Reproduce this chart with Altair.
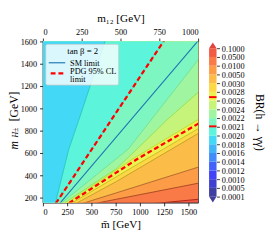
import altair as alt
import pandas as pd

# ---- colour-bar levels ----
levels = [0.0001, 0.0005, 0.0010, 0.0012, 0.0014, 0.0016, 0.0018, 0.0020, 0.0021,
          0.0022, 0.0024, 0.0026, 0.0028, 0.0030, 0.0050, 0.0100, 0.0500, 0.1000]
level_labels = ["0.0001", "0.0005", "0.0010", "0.0012", "0.0014", "0.0016", "0.0018",
                "0.0020", "0.0021", "0.0022", "0.0024", "0.0026", "0.0028", "0.0030",
                "0.0050", "0.0100", "0.0500", "0.1000"]
band_colors = ["#4040a0", "#4040d0", "#4242f8", "#4262fa", "#428cfa", "#42b4f8",
               "#42d8f6", "#5cf4da", "#7ef6c2", "#a0f6a0", "#c6f47a", "#eef250",
               "#fcd844", "#fcbc48", "#fc9c46", "#f97a46", "#f25a44"]
over_color = "#e04440"
under_color = "#40409a"
cbar_marks = [8.05, 11.4]   # red markers on the colour bar (level index units)

# ---- contour boundaries: (mbar [GeV], m_H+- [GeV]) ----
c0020_x = [0, 130, 267, 370, 640, 720]
c0020_y = [-300, 155, 634, 895, 1600, 1800]
c0021_x = [0, 140, 1243, 1396]
c0021_y = [-28, 155, 1600, 1800]
c0022_x = [0, 200, 880, 1610, 1928]
c0022_y = [14, 155, 634, 1446, 1800]
c0024_x = [0, 230, 760, 970, 1277, 1610, 1800]
c0024_y = [23, 155, 460, 634, 895, 1150, 1295]
c0026_x = [0, 260, 930, 1610, 1800]
c0026_y = [3, 155, 547, 904, 1004]
c0028_x = [0, 310, 760, 1610, 1800]
c0028_y = [-5, 155, 387, 822, 919]
c0030_x = [0, 360, 760, 1610, 1800]
c0030_y = [-15, 155, 344, 779, 876]
c0050_x = [0, 440, 760, 1610, 1800]
c0050_y = [35, 155, 242, 474, 526]
c0100_x = [0, 590, 760, 1610, 1800]
c0100_y = [54, 155, 184, 329, 361]
c0500_x = [0, 1260, 1610, 1800]
c0500_y = [51, 155, 184, 200]

sm_x = [32, 183, 1595, 1790]
sm_y = [0, 155, 1600, 1800]
pdg_lo_x = [0, 280, 977, 1610, 1800]
pdg_lo_y = [-2, 155, 547, 866, 962]

FONT = "Liberation Serif"
XDOM = [0, 1600]
YDOM = [155, 1600]
TOP = 2000

xenc = lambda: alt.X("x:Q", scale=alt.Scale(domain=XDOM, nice=False, zero=False),
                     axis=alt.Axis(values=[0, 250, 500, 750, 1000, 1250, 1500], format="d",
                                   title="m̄ [GeV]", titlePadding=3))
yenc = lambda: alt.Y("y:Q", scale=alt.Scale(domain=YDOM, nice=False, zero=False),
                     axis=alt.Axis(values=[200, 400, 600, 800, 1000, 1200, 1400, 1600],
                                   format="d", title=None, labelPadding=3))

def line_df(xs, ys):
    return pd.DataFrame({"x": xs, "y": ys, "top": [TOP] * len(xs)})

# (boundary, colour of region above it, contour-line colour), painted bottom-right first
bounds = [
    (c0500_x, c0500_y, band_colors[15], "#a81c18"),
    (c0100_x, c0100_y, band_colors[14], "#a04422"),
    (c0050_x, c0050_y, band_colors[13], "#a8642a"),
    (c0030_x, c0030_y, band_colors[12], "#c09a28"),
    (c0028_x, c0028_y, band_colors[11], "#c8b828"),
    (c0026_x, c0026_y, band_colors[10], "#b8dc30"),
    (c0024_x, c0024_y, band_colors[9], "#90e050"),
    (c0022_x, c0022_y, band_colors[8], "#70e090"),
    (c0021_x, c0021_y, band_colors[7], "#40e0c0"),
    (c0020_x, c0020_y, band_colors[6], "#28c8c0"),
]

layers = []
base = pd.DataFrame({"x": [0, 1600], "y": [-500, -500], "top": [TOP, TOP]})
layers.append(alt.Chart(base).mark_area(color=band_colors[16], clip=True, opacity=1)
              .encode(x=xenc(), y=yenc(), y2=alt.Y2("top:Q")))
for bx, by, fc, lc in bounds:
    layers.append(alt.Chart(line_df(bx, by)).mark_area(color=fc, clip=True, opacity=1)
                  .encode(x=xenc(), y=yenc(), y2=alt.Y2("top:Q")))
for bx, by, fc, lc in bounds:
    layers.append(alt.Chart(line_df(bx, by)).mark_line(color=lc, strokeWidth=0.9, clip=True)
                  .encode(x=xenc(), y=yenc()))

layers.append(alt.Chart(line_df(sm_x, sm_y)).mark_line(color="#1f77b4", strokeWidth=1.1, clip=True)
              .encode(x=xenc(), y=yenc()))
for dx, dy in [(c0021_x, c0021_y), (pdg_lo_x, pdg_lo_y)]:
    layers.append(alt.Chart(line_df(dx, dy)).mark_line(color="#ff0000", strokeWidth=2.3,
                                                       strokeDash=[5, 3], clip=True)
                  .encode(x=xenc(), y=yenc()))

one = pd.DataFrame({"a": [0]})
# legend box
layers.append(alt.Chart(one).mark_rect(fill="white", fillOpacity=0.8, stroke="#cccccc",
                                       strokeWidth=0.8, cornerRadius=2)
              .encode(x=alt.value(3), x2=alt.value(78), y=alt.value(3), y2=alt.value(45)))
layers.append(alt.Chart(one).mark_text(text="tan β = 2", font=FONT, fontSize=9,
                                       align="center", baseline="middle")
              .encode(x=alt.value(41), y=alt.value(10)))
layers.append(alt.Chart(one).mark_rule(color="#1f77b4", strokeWidth=1.2)
              .encode(x=alt.value(6), x2=alt.value(23), y=alt.value(22)))
layers.append(alt.Chart(one).mark_text(text="SM limit", font=FONT, fontSize=8.5,
                                       align="left", baseline="middle")
              .encode(x=alt.value(28), y=alt.value(22)))
layers.append(alt.Chart(one).mark_rule(color="#ff0000", strokeWidth=2.3, strokeDash=[5, 3])
              .encode(x=alt.value(8), x2=alt.value(23), y=alt.value(33)))
layers.append(alt.Chart(one).mark_text(text="PDG 95% CL", font=FONT, fontSize=8.5,
                                       align="left", baseline="middle")
              .encode(x=alt.value(28), y=alt.value(30.5)))
layers.append(alt.Chart(one).mark_text(text="limit", font=FONT, fontSize=8.5,
                                       align="left", baseline="middle")
              .encode(x=alt.value(28), y=alt.value(38.5)))
# y-axis title with subscript
layers.append(alt.Chart(one).mark_text(text="m", font=FONT, fontSize=12, fontStyle="italic",
                                       angle=270, align="center", baseline="middle")
              .encode(x=alt.value(-30), y=alt.value(107)))
layers.append(alt.Chart(one).mark_text(text="H±", font=FONT, fontSize=8, fontStyle="italic",
                                       angle=270, align="center", baseline="middle")
              .encode(x=alt.value(-27.5), y=alt.value(94)))
layers.append(alt.Chart(one).mark_text(text="[GeV]", font=FONT, fontSize=12,
                                       angle=270, align="center", baseline="middle")
              .encode(x=alt.value(-30), y=alt.value(67)))

main = alt.layer(*layers)

# ---- top axis (m12) ----
top_df = pd.DataFrame({"m12": [0, 1000]})
top = alt.Chart(top_df).mark_point(opacity=0).encode(
    x=alt.X("m12:Q", scale=alt.Scale(domain=[0, 1000], nice=False, zero=False),
            axis=alt.Axis(orient="top", values=[0, 250, 500, 750, 1000], format="d",
                          title="m₁₂ [GeV]", titlePadding=4)),
    y=alt.value(0))

# ---- colour bar ----
CB_DOM = [-0.667, 17.78]
label_expr = "[" + ",".join("'%s'" % s for s in level_labels) + "][datum.value]"
cb_df = pd.DataFrame({"lo": list(range(17)), "hi": list(range(1, 18)), "c": band_colors})
cyenc = lambda f: alt.Y(f, scale=alt.Scale(domain=CB_DOM, nice=False, zero=False),
                        axis=alt.Axis(orient="right", offset=19, values=list(range(18)),
                                      labelExpr=label_expr, title="BR(h → γγ)",
                                      domain=False, tickSize=3, labelPadding=2,
                                      titlePadding=9, titleFontSize=12))
cb_rects = alt.Chart(cb_df).mark_rect().encode(
    y=cyenc("lo:Q"), y2=alt.Y2("hi:Q"),
    x=alt.value(171.3), x2=alt.value(179),
    color=alt.Color("c:N", scale=None))
tri_df = pd.DataFrame({"v": [17.33], "c": [over_color]})
tri_up = alt.Chart(tri_df).mark_point(shape="M-1,0.78L1,0.78L0,-0.78Z", filled=True,
                                      opacity=1, size=60, color=over_color).encode(
    y=cyenc("v:Q"), x=alt.value(175.15))
tri_df2 = pd.DataFrame({"v": [-0.33]})
tri_dn = alt.Chart(tri_df2).mark_point(shape="M-1,-0.78L1,-0.78L0,0.78Z", filled=True,
                                       opacity=1, size=60, color=under_color).encode(
    y=cyenc("v:Q"), x=alt.value(175.15))
mk_df = pd.DataFrame({"v": cbar_marks})
cb_marks = alt.Chart(mk_df).mark_rule(color="#ff0000", strokeWidth=2).encode(
    y=cyenc("v:Q"), x=alt.value(171.3), x2=alt.value(179))
cbar = alt.layer(cb_rects, tri_up, tri_dn, cb_marks)

chart = alt.layer(main, top, cbar).resolve_scale(x="independent", y="independent").properties(
    width=160, height=166,
    autosize=alt.AutoSizeParams(type="none"),
    padding={"left": 36, "top": 31, "right": 70, "bottom": 27},
).configure_view(stroke="black", strokeWidth=0.8).configure_axis(
    labelFont=FONT, titleFont=FONT, labelFontSize=8.5, titleFontSize=11.5,
    titleFontWeight="normal", labelColor="black", titleColor="black",
    tickColor="black", domainColor="black", grid=False, tickSize=3.5,
    domainWidth=0.8, tickWidth=0.8)

chart.save("out.html", embed_options={"renderer": "svg", "actions": False})
